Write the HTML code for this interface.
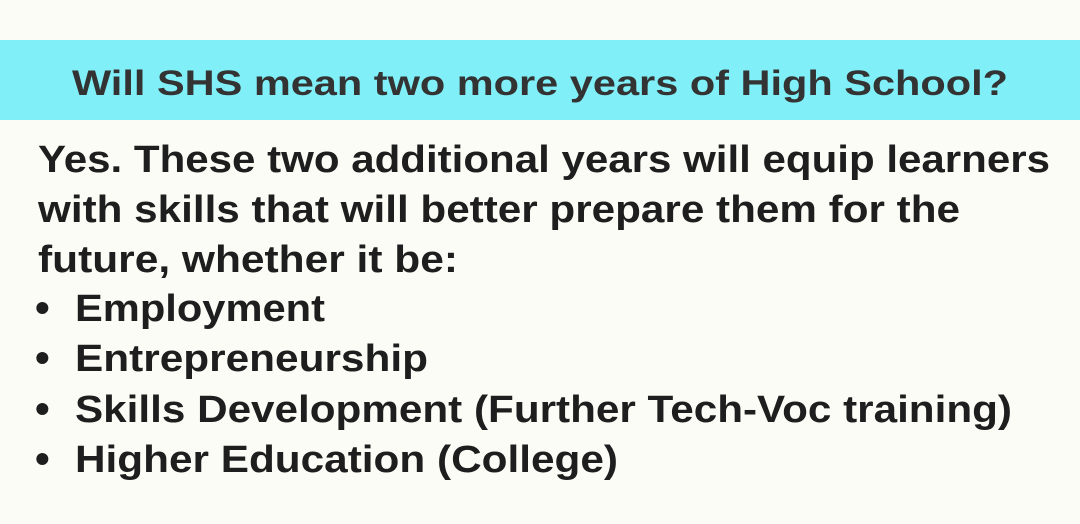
<!DOCTYPE html>
<html><head><meta charset="utf-8"><style>
html,body{margin:0;padding:0;background:#fcfcf7;}
svg{display:block;}
text{font-family:"Liberation Sans",sans-serif;font-weight:bold;fill:#1e1e1e;}
</style></head><body>
<svg width="1080" height="524" viewBox="0 0 1080 524">
<rect x="0" y="0" width="1080" height="524" fill="#fcfcf7"/>
<rect x="0" y="40" width="1080" height="80" fill="#80eff7"/>
<text x="72" y="95" font-size="35" style="fill:#333" textLength="936" lengthAdjust="spacingAndGlyphs">Will SHS mean two more years of High School?</text>
<text x="38" y="172" font-size="38" textLength="1012" lengthAdjust="spacingAndGlyphs">Yes. These two additional years will equip learners</text>
<text x="38" y="222" font-size="38" textLength="922" lengthAdjust="spacingAndGlyphs">with skills that will better prepare them for the</text>
<text x="38" y="272" font-size="38" textLength="420" lengthAdjust="spacingAndGlyphs">future, whether it be:</text>
<g>
<text x="35" y="322" font-size="42">•</text>
<text x="75" y="321" font-size="38" textLength="250" lengthAdjust="spacingAndGlyphs">Employment</text>
<text x="35" y="372" font-size="42">•</text>
<text x="75" y="371" font-size="38" textLength="353" lengthAdjust="spacingAndGlyphs">Entrepreneurship</text>
<text x="35" y="423" font-size="42">•</text>
<text x="75" y="422" font-size="38" textLength="937" lengthAdjust="spacingAndGlyphs">Skills Development (Further Tech-Voc training)</text>
<text x="35" y="473" font-size="42">•</text>
<text x="75" y="472" font-size="38" textLength="543" lengthAdjust="spacingAndGlyphs">Higher Education (College)</text>
</g>
</svg>
</body></html>
